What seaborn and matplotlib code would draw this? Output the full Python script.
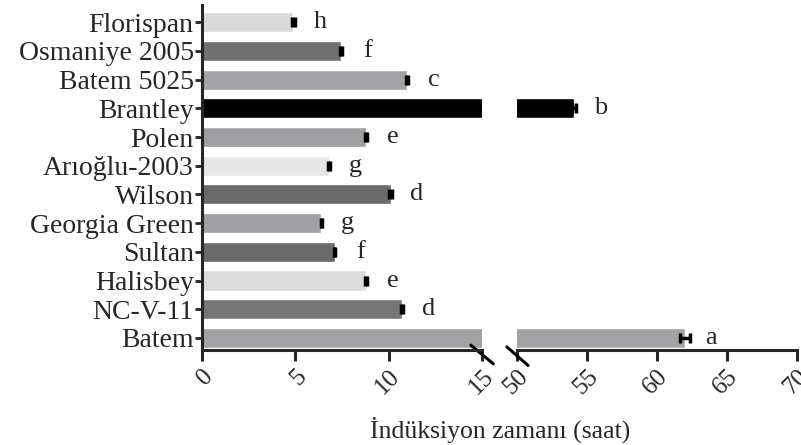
import numpy as np
import pandas as pd
import seaborn as sns
import matplotlib.pyplot as plt

# data
cultivars = ['Florispan', 'Osmaniye 2005', 'Batem 5025', 'Brantley', 'Polen',
             'Arıoğlu-2003', 'Wilson', 'Georgia Green', 'Sultan', 'Halisbey',
             'NC-V-11', 'Batem']
induction = [4.9, 7.45, 11.0, 54.1, 8.8, 6.8, 10.1, 6.4, 7.1, 8.8, 10.7, 62.0]
errors = [0.06, 0.06, 0.05, 0.15, 0.05, 0.04, 0.06, 0.05, 0.05, 0.05, 0.05, 0.35]
letters = ['h', 'f', 'c', 'b', 'e', 'g', 'd', 'g', 'f', 'e', 'd', 'a']
bar_colors = ['#dadada', '#707070', '#a3a3a5', '#000000', '#a0a0a2', '#e6e6e6',
              '#6a6a6a', '#a0a0a2', '#6a6a6a', '#dcdcdc', '#777777', '#a3a3a5']

df = pd.DataFrame({'cultivar': cultivars, 'time': induction})

sns.set_style('white')
plt.rcParams['font.family'] = ['Liberation Serif', 'DejaVu Serif']

fig = plt.figure(figsize=(8.01, 4.45), dpi=100)
ax1 = fig.add_axes([0.2522, 0.2135, 0.3496, 0.7753])
ax2 = fig.add_axes([0.6454, 0.2135, 0.3496, 0.7753])

pal = dict(zip(cultivars, bar_colors))
for ax in (ax1, ax2):
    sns.barplot(data=df, x='time', y='cultivar', hue='cultivar', palette=pal,
                orient='h', width=0.7, legend=False, ax=ax, saturation=1)
    ax.set_ylim(11.42, -0.6)
    ax.set_xlabel('')
    ax.set_ylabel('')
    for s in ['top', 'right']:
        ax.spines[s].set_visible(False)

ax1.set_xlim(0, 15)
ax2.set_xlim(50, 70)
ax1.set_xticks([0, 5, 10, 15])
ax2.set_xticks([50, 55, 60, 65, 70])

# error bars + significance letters
ypos = np.arange(len(cultivars))
for i, (v, e, l) in enumerate(zip(induction, errors, letters)):
    ax = ax2 if v > 15 else ax1
    ax.errorbar(v, ypos[i], xerr=e, fmt='none', ecolor='black', elinewidth=2.5,
                capsize=3.5, capthick=2.5)
    ax.annotate(l, (v, ypos[i]), xytext=(19, 0), textcoords='offset points',
                ha='center', va='center', fontsize=19)

ax1.spines['left'].set_linewidth(2.2)
ax1.spines['bottom'].set_linewidth(2.2)
ax2.spines['bottom'].set_linewidth(2.2)
ax2.spines['left'].set_visible(False)
ax1.tick_params(axis='y', length=5, width=2, labelsize=20, pad=1, direction='out', left=True)
ax2.tick_params(axis='y', left=False, labelleft=False)
for ax in (ax1, ax2):
    ax.tick_params(axis='x', length=8, width=2.2, labelsize=18, direction='out',
                   bottom=True, pad=3)
    for lab in ax.get_xticklabels():
        lab.set_rotation(45)
        lab.set_ha('right')
        lab.set_rotation_mode('anchor')

# break marks
kw = dict(color='black', lw=2.2, clip_on=False)
ax1.plot([0.96, 1.04], [0.014, -0.04], transform=ax1.transAxes, **kw)
ax2.plot([-0.036, 0.04], [0.009, -0.045], transform=ax2.transAxes, **kw)

fig.text(0.624, 0.004, 'İndüksiyon zamanı (saat)', ha='center', va='bottom', fontsize=18.5)

fig.savefig('out.png', dpi=100)
